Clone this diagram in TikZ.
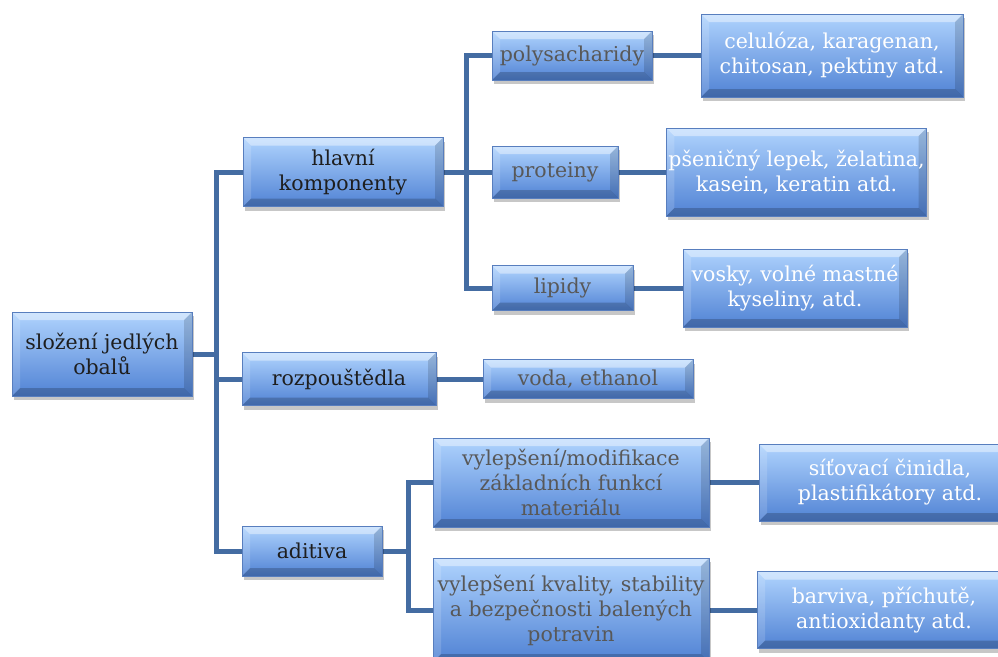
\documentclass[tikz,border=0pt]{standalone}
\usepackage{fontspec}
\setmainfont{DejaVu Serif}
\usetikzlibrary{shadows,backgrounds}
\definecolor{conncol}{RGB}{68,108,162}
\definecolor{ctop}{RGB}{176,212,254}
\definecolor{cmid}{RGB}{130,178,242}
\definecolor{cbot}{RGB}{80,130,212}
\definecolor{cedge}{RGB}{88,126,190}
\definecolor{tdark}{RGB}{30,30,30}
\definecolor{tgray}{RGB}{88,88,88}
\newcommand{\PPB}{path picture bounding box}
\tikzset{
  box/.style={rectangle, inner sep=2pt, align=center,
    font=\fontsize{20.5}{25}\selectfont,
    top color=ctop, middle color=cmid, bottom color=cbot,
    draw=cedge, line width=0.6pt,
    drop shadow={shadow xshift=2pt, shadow yshift=-4pt, opacity=0.22, fill=black},
    path picture={
      \fill[white,opacity=0.42] (\PPB.north west) -- (\PPB.north east) -- ([xshift=-8pt,yshift=-8pt]\PPB.north east) -- ([xshift=8pt,yshift=-8pt]\PPB.north west) -- cycle;
      \fill[black,opacity=0.2] (\PPB.south west) -- (\PPB.south east) -- ([xshift=-8pt,yshift=8pt]\PPB.south east) -- ([xshift=8pt,yshift=8pt]\PPB.south west) -- cycle;
      \fill[white,opacity=0.15] (\PPB.north west) -- ([xshift=8pt,yshift=-8pt]\PPB.north west) -- ([xshift=8pt,yshift=8pt]\PPB.south west) -- (\PPB.south west) -- cycle;
      \fill[black,opacity=0.14] (\PPB.north east) -- ([xshift=-8pt,yshift=-8pt]\PPB.north east) -- ([xshift=-8pt,yshift=8pt]\PPB.south east) -- (\PPB.south east) -- cycle;
    }},
  dk/.style={box, text=tdark},
  gy/.style={box, text=tgray},
  wt/.style={box, text=white},
  conn/.style={draw=conncol, line width=5pt}
}
\begin{document}
\begin{tikzpicture}[x=1pt,y=-1pt]
\useasboundingbox (0,0) rectangle (998,656);
\clip (0,0) rectangle (998,656);

\node[dk, minimum width=180pt, minimum height=84pt] (root) at (102,354) {složení jedlých\\obalů};
\node[dk, minimum width=200pt, minimum height=69pt] (hk) at (343,172) {hlavní\\komponenty};
\node[dk, minimum width=194pt, minimum height=53pt] (rz) at (339,379) {rozpouštědla};
\node[dk, minimum width=140pt, minimum height=50pt] (ad) at (312,551) {aditiva};

\node[gy, minimum width=160pt, minimum height=49pt] (poly) at (572,55.5) {polysacharidy};
\node[gy, minimum width=126pt, minimum height=52pt] (prot) at (555,172) {proteiny};
\node[gy, minimum width=141pt, minimum height=45pt] (lip) at (562.5,288) {lipidy};
\node[gy, minimum width=210pt, minimum height=39pt] (voda) at (588,379) {voda, ethanol};
\node[gy, minimum width=276pt, minimum height=89pt] (mod) at (571,482.5) {vylepšení/modifikace\\základních funkcí\\materiálu};
\node[gy, minimum width=276pt, minimum height=104pt] (qual) at (571,610) {vylepšení kvality, stability\\a bezpečnosti balených\\potravin};

\node[wt, minimum width=262pt, minimum height=83pt] (cel) at (832,55.5) {celulóza, karagenan,\\chitosan, pektiny atd.};
\node[wt, minimum width=257pt, minimum height=88pt] (psen) at (796.5,172) {pšeničný lepek, želatina,\\kasein, keratin atd.};
\node[wt, minimum width=224pt, minimum height=78pt] (vos) at (795,288) {vosky, volné mastné\\kyseliny, atd.};
\node[wt, minimum width=262pt, minimum height=77pt] (sit) at (890,482.5) {síťovací činidla,\\plastifikátory atd.};
\node[wt, minimum width=254pt, minimum height=77pt] (barv) at (884,610) {barviva, příchutě,\\antioxidanty atd.};

\coordinate (j1) at (216,354);
\coordinate (j2) at (466,172);
\coordinate (j3) at (408,551);

\begin{scope}[on background layer]
\fill[white] (0,0) rectangle (998,656);
\draw[conn] (root.east) -- (j1);
\draw[conn] (j1) |- (hk.west);
\draw[conn] (j1) |- (rz.west);
\draw[conn] (j1) |- (ad.west);
\draw[conn] (hk.east) -- (j2);
\draw[conn] (j2) |- (poly.west);
\draw[conn] (j2) |- (prot.west);
\draw[conn] (j2) |- (lip.west);
\draw[conn] (rz.east) -- (voda.west);
\draw[conn] (ad.east) -- (j3);
\draw[conn] (j3) |- (mod.west);
\draw[conn] (j3) |- (qual.west);
\draw[conn] (poly.east) -- (cel.west);
\draw[conn] (prot.east) -- (psen.west);
\draw[conn] (lip.east) -- (vos.west);
\draw[conn] (mod.east) -- (sit.west);
\draw[conn] (qual.east) -- (barv.west);
\end{scope}
\end{tikzpicture}
\end{document}
